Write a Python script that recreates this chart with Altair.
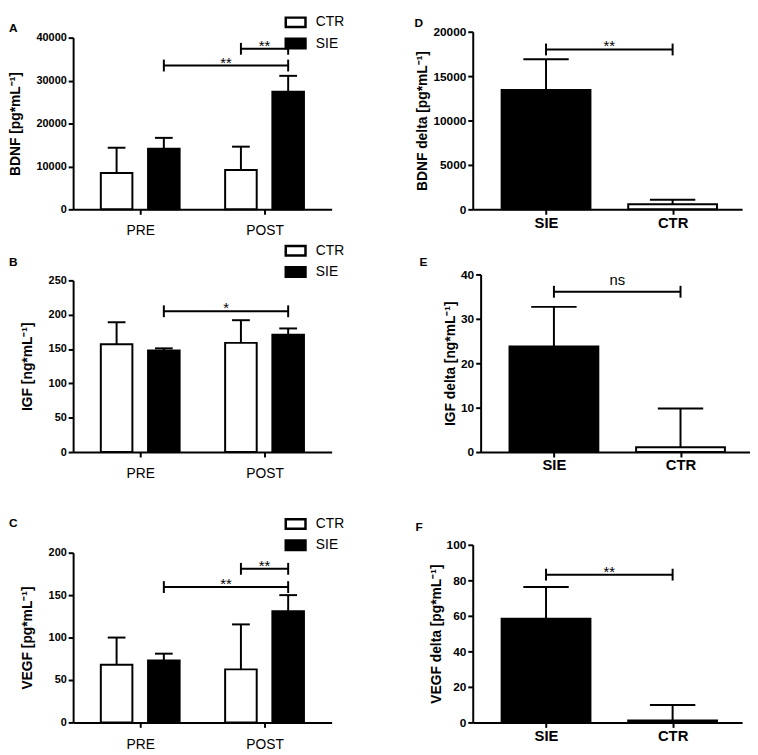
import altair as alt
import pandas as pd

FONT = "Liberation Sans"

groups = ["CTR", "SIE"]
times = ["PRE", "POST"]
delta_groups = ["SIE", "CTR"]

bdnf_ctr = [8450, 9150]
bdnf_ctr_err = [5900, 5450]
bdnf_sie = [14100, 27400]
bdnf_sie_err = [2550, 3700]

igf_ctr = [157, 159]
igf_ctr_err = [32, 33]
igf_sie = [148, 171]
igf_sie_err = [3, 9]

vegf_ctr = [68, 62.5]
vegf_ctr_err = [32, 53]
vegf_sie = [73, 131]
vegf_sie_err = [8, 19]

bdnf_delta = [13450, 560]
bdnf_delta_err = [3450, 520]
igf_delta = [23.8, 1.1]
igf_delta_err = [8.9, 8.7]
vegf_delta = [58.4, 1.1]
vegf_delta_err = [17.9, 8.7]

# significance brackets: (from time, from group, to time, to group, level, label)
bdnf_brackets = [("POST", "CTR", "POST", "SIE", 37400, "**"),
                 ("PRE", "SIE", "POST", "SIE", 33500, "**")]
igf_brackets = [("PRE", "SIE", "POST", "SIE", 205, "*")]
vegf_brackets = [("POST", "CTR", "POST", "SIE", 181, "**"),
                 ("PRE", "SIE", "POST", "SIE", 159.5, "**")]
bdnf_delta_brackets = [("SIE", "CTR", 18000, "**")]
igf_delta_brackets = [("SIE", "CTR", 36.1, "ns")]
vegf_delta_brackets = [("SIE", "CTR", 83.2, "**")]

SHIFT = {"CTR": -0.19, "SIE": 0.19}
FILLS = {"CTR": "white", "SIE": "black"}


def annot(brk_rows, xs, ys, xaxis, yaxis):
    bl, ends = [], []
    for x1, x2, lvl, lab in brk_rows:
        bl.append({"x1": x1, "x2": x2, "xm": (x1 + x2) / 2, "level": lvl, "label": lab})
        ends += [{"xe": x1, "level": lvl}, {"xe": x2, "level": lvl}]
    bdf = pd.DataFrame(bl)
    edf = pd.DataFrame(ends)
    line = alt.Chart(bdf).mark_rule(color="black", strokeWidth=2).encode(
        x=alt.X("x1:Q", scale=xs, axis=xaxis), x2="x2:Q",
        y=alt.Y("level:Q", scale=ys, axis=yaxis))
    ticks = alt.Chart(edf).mark_tick(orient="vertical", size=12, thickness=2,
                                     color="black", opacity=1).encode(
        x=alt.X("xe:Q", scale=xs, axis=xaxis),
        y=alt.Y("level:Q", scale=ys, axis=yaxis))
    layers = [line, ticks]
    stars = bdf[bdf["label"] != "ns"]
    ns = bdf[bdf["label"] == "ns"]
    if len(stars):
        layers.append(alt.Chart(stars).mark_text(
            font=FONT, fontSize=15, color="black", baseline="alphabetic", dy=2).encode(
            x=alt.X("xm:Q", scale=xs, axis=xaxis),
            y=alt.Y("level:Q", scale=ys, axis=yaxis), text="label:N"))
    if len(ns):
        layers.append(alt.Chart(ns).mark_text(
            font=FONT, fontSize=15, color="black", baseline="alphabetic", dy=-7).encode(
            x=alt.X("xm:Q", scale=xs, axis=xaxis),
            y=alt.Y("level:Q", scale=ys, axis=yaxis), text="label:N"))
    return layers


def letter_title(letter, dx, offset):
    return alt.TitleParams(text=letter, anchor="start", frame="group", font=FONT,
                           fontSize=12, fontWeight="bold", color="black", dx=dx,
                           offset=offset)


def left_panel(letter, ctr, ctr_err, sie, sie_err, ymax, ystep, ytitle, brackets,
               yrange, height, legend_y, title_offset):
    rows = []
    for g, vals, errs in (("CTR", ctr, ctr_err), ("SIE", sie, sie_err)):
        for i, t in enumerate(times):
            rows.append({"group": g, "time": t, "xc": i + 0.5 + SHIFT[g],
                         "value": vals[i], "upper": vals[i] + errs[i]})
    df = pd.DataFrame(rows)
    xs = alt.Scale(domain=[0, len(times)], nice=False, zero=False)
    ys = alt.Scale(domain=[0, ymax], nice=False, zero=True, range=yrange)
    label_expr = "[" + ",".join("'%s'" % t for t in times) + "][floor(datum.value)]"
    xaxis = alt.Axis(values=[i + 0.5 for i in range(len(times))], labelExpr=label_expr,
                     title=None, grid=False, labelFont=FONT, labelFontSize=14,
                     labelFontWeight="normal", labelPadding=10, labelAngle=0)
    yaxis = alt.Axis(values=list(range(0, ymax + 1, ystep)), format="d", title=ytitle,
                     titleFont=FONT, titleFontSize=14, titleFontWeight="bold",
                     titlePadding=14, labelFont=FONT, labelFontSize=11,
                     labelFontWeight="bold", grid=False, labelPadding=2,
                     labelOverlap=False, tickCount=len(range(0, ymax + 1, ystep)))
    bars = alt.Chart(df).mark_bar(size=32, stroke="black", strokeWidth=2).encode(
        x=alt.X("xc:Q", scale=xs, axis=xaxis),
        y=alt.Y("value:Q", scale=ys, axis=yaxis),
        fill=alt.Fill("group:N", scale=alt.Scale(domain=groups, range=[FILLS[g] for g in groups]),
                      legend=alt.Legend(title=None, orient="none", legendX=216, legendY=legend_y,
                                        symbolType="M-1.25,-0.6H1.25V0.6H-1.25Z", symbolSize=256,
                                        symbolStrokeColor="black", symbolStrokeWidth=2.5,
                                        labelFont=FONT, labelFontSize=14, labelColor="black",
                                        labelOffset=11, rowPadding=0.5, padding=0)))
    err = alt.Chart(df).mark_rule(color="black", strokeWidth=2).encode(
        x=alt.X("xc:Q", scale=xs, axis=xaxis),
        y=alt.Y("value:Q", scale=ys, axis=yaxis), y2="upper:Q")
    caps = alt.Chart(df).mark_tick(orient="horizontal", size=18, thickness=2,
                                   color="black", opacity=1).encode(
        x=alt.X("xc:Q", scale=xs, axis=xaxis),
        y=alt.Y("upper:Q", scale=ys, axis=yaxis))
    brk_rows = []
    for t1, g1, t2, g2, lvl, lab in brackets:
        brk_rows.append((times.index(t1) + 0.5 + SHIFT[g1], times.index(t2) + 0.5 + SHIFT[g2], lvl, lab))
    layers = [bars, err, caps] + annot(brk_rows, xs, ys, xaxis, yaxis)
    return alt.layer(*layers).properties(
        width=262, height=height, title=letter_title(letter, -65, title_offset)
    ).resolve_scale(fill="independent")


def right_panel(letter, vals, errs, ymax, ystep, ytitle, brackets, yrange, height,
                width, xrange, yoffset, title_offset, title_dx):
    rows = []
    for i, g in enumerate(delta_groups):
        rows.append({"group": g, "xc": i + 0.5, "value": vals[i], "upper": vals[i] + errs[i]})
    df = pd.DataFrame(rows)
    xs = alt.Scale(domain=[-0.04, 2.01], nice=False, zero=False, range=xrange)
    ys = alt.Scale(domain=[0, ymax], nice=False, zero=True, range=yrange)
    label_expr = "[" + ",".join("'%s'" % g for g in delta_groups) + "][floor(datum.value)]"
    xaxis = alt.Axis(values=[i + 0.5 for i in range(len(delta_groups))], labelExpr=label_expr,
                     title=None, grid=False, labelFont=FONT, labelFontSize=15,
                     labelFontWeight="bold", labelPadding=1, labelAngle=0)
    yaxis = alt.Axis(values=list(range(0, ymax + 1, ystep)), format="d", title=ytitle,
                     titleFont=FONT, titleFontSize=14, titleFontWeight="bold",
                     titlePadding=3, labelFont=FONT, labelFontSize=12,
                     labelFontWeight="bold", grid=False, labelPadding=2, offset=yoffset,
                     labelOverlap=False)
    bars = alt.Chart(df).mark_bar(size=90, stroke="black", strokeWidth=2).encode(
        x=alt.X("xc:Q", scale=xs, axis=xaxis),
        y=alt.Y("value:Q", scale=ys, axis=yaxis),
        fill=alt.Fill("group:N", scale=alt.Scale(domain=delta_groups,
                                                 range=[FILLS[g] for g in delta_groups]),
                      legend=None))
    err = alt.Chart(df).mark_rule(color="black", strokeWidth=2).encode(
        x=alt.X("xc:Q", scale=xs, axis=xaxis),
        y=alt.Y("value:Q", scale=ys, axis=yaxis), y2="upper:Q")
    caps = alt.Chart(df).mark_tick(orient="horizontal", size=46, thickness=2,
                                   color="black", opacity=1).encode(
        x=alt.X("xc:Q", scale=xs, axis=xaxis),
        y=alt.Y("upper:Q", scale=ys, axis=yaxis))
    brk_rows = []
    for g1, g2, lvl, lab in brackets:
        brk_rows.append((delta_groups.index(g1) + 0.5, delta_groups.index(g2) + 0.5, lvl, lab))
    layers = [bars, err, caps] + annot(brk_rows, xs, ys, xaxis, yaxis)
    return alt.layer(*layers).properties(
        width=width, height=height, title=letter_title(letter, title_dx, title_offset)
    ).resolve_scale(fill="independent")


A = left_panel("A", bdnf_ctr, bdnf_ctr_err, bdnf_sie, bdnf_sie_err, 40000, 10000,
               "BDNF [pg*mL⁻¹]", bdnf_brackets, [180, 6], 180, -19, -22)
B = left_panel("B", igf_ctr, igf_ctr_err, igf_sie, igf_sie_err, 250, 50,
               "IGF [ng*mL⁻¹]", igf_brackets, [180, 6], 180, -33.5, -27.5)
C = left_panel("C", vegf_ctr, vegf_ctr_err, vegf_sie, vegf_sie_err, 200, 50,
               "VEGF [pg*mL⁻¹]", vegf_brackets, [208, 36], 208, -2.5, -15.5)
D = right_panel("D", bdnf_delta, bdnf_delta_err, 20000, 5000, "BDNF delta [pg*mL⁻¹]",
                bdnf_delta_brackets, [180, 0], 180, 273, [0, 273], 0, -4, -59)
E = right_panel("E", igf_delta, igf_delta_err, 40, 10, "IGF delta [ng*mL⁻¹]",
                igf_delta_brackets, [180, 0], 180, 281, [8, 281], -8, -0.5, -54)
F = right_panel("F", vegf_delta, vegf_delta_err, 100, 20, "VEGF delta [pg*mL⁻¹]",
                vegf_delta_brackets, [208, 28], 208, 273, [0, 273], 0, -17, -58)

chart = alt.concat(A, D, B, E, C, F, columns=2, spacing={"row": 66, "column": 143},
                   bounds="flush", align="each").resolve_scale(
    fill="independent").properties(
    padding={"left": 0, "top": 0, "right": 0, "bottom": 0}, background="white"
).configure_view(stroke=None).configure_axis(
    domainColor="black", domainWidth=2, tickColor="black", tickWidth=2, tickSize=5,
    labelColor="black", titleColor="black", labelOverlap=False
)

chart.save("out.html", embed_options={"renderer": "svg", "actions": False})
